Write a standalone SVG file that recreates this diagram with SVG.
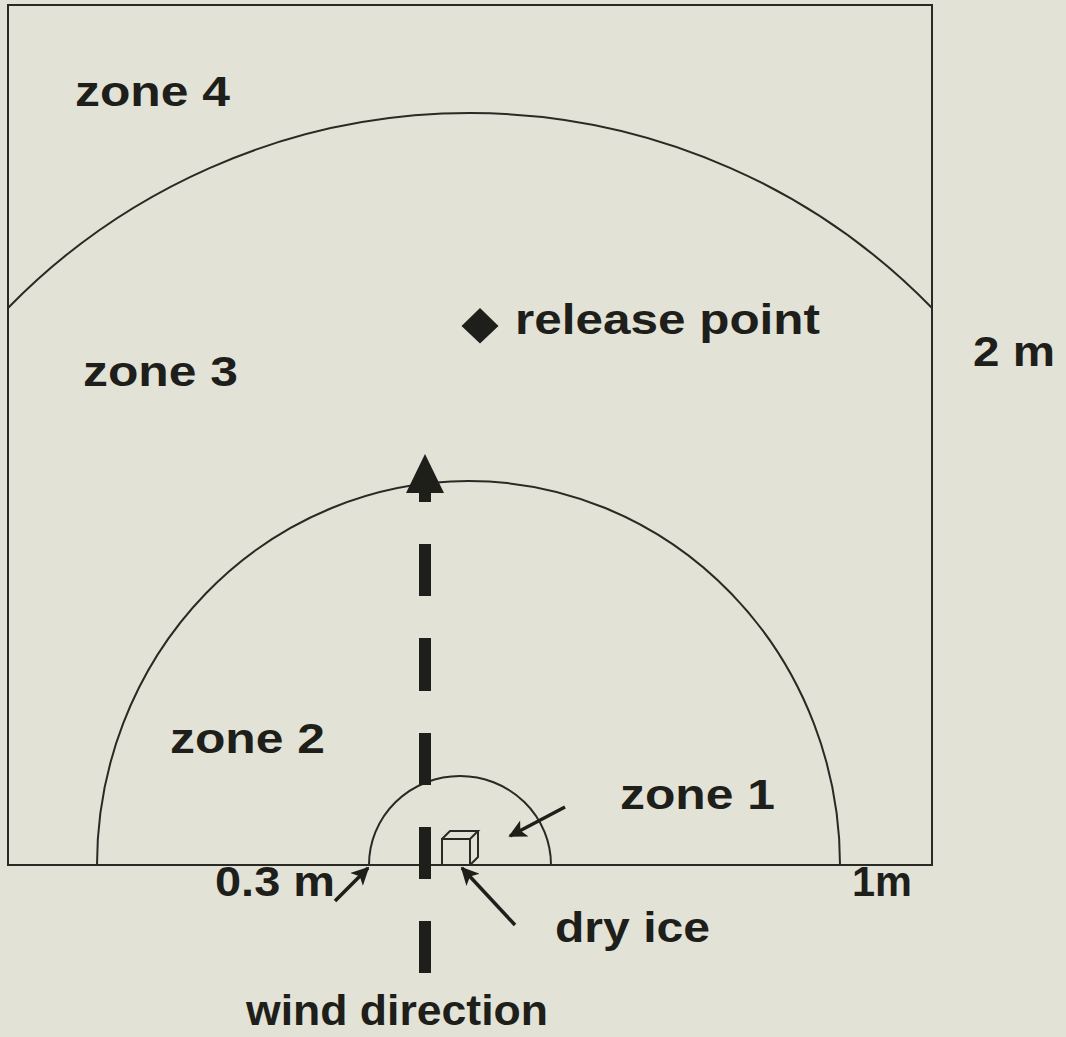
<svg xmlns="http://www.w3.org/2000/svg" width="1066" height="1037" viewBox="0 0 1066 1037">
<style>
.ln{fill:none;stroke:#2a2a25;stroke-width:2}
.tx{font-family:"Liberation Sans",Arial,sans-serif;font-weight:bold;font-size:43px;fill:#1e1e1a}
.ar{stroke:#1e1e1a;stroke-width:3.5;fill:none}
</style>
<defs>
<marker id="head" viewBox="0 0 10 10" refX="9" refY="5" markerWidth="22" markerHeight="18" markerUnits="userSpaceOnUse" orient="auto">
<path d="M0,0 L10,5 L0,10 L2.5,5 z" fill="#1e1e1a"/>
</marker>
</defs>
<rect width="1066" height="1037" fill="#e3e2d6"/>
<g id="frame"><rect class="ln" x="8" y="5" width="924" height="860"/></g>
<g id="zone4-boundary"><path class="ln" d="M8 308 A645 645 0 0 1 932 308"/></g>
<g id="zone2-boundary"><path class="ln" d="M97 865 A371.5 384 0 0 1 840 865"/></g>
<g id="zone1-boundary"><path class="ln" d="M369 865 A91 89 0 0 1 551 865"/></g>
<g id="dry-ice">
<path class="ln" d="M442 839 H470 V865 H442 Z M442 839 L450 831 H478 L470 839 M478 831 V857 L470 865"/>
</g>
<g id="release-point"><path d="M480 308 L498.5 326 L480 343.5 L461.5 326 Z" fill="#1e1e1a"/></g>
<g id="connectors">
<g id="wind-arrow" fill="#1e1e1a">
<rect x="419" y="544" width="12" height="52"/>
<rect x="419" y="638" width="12" height="53"/>
<rect x="419" y="733" width="12" height="52"/>
<rect x="419" y="827" width="12" height="52"/>
<rect x="419" y="921" width="12" height="52"/>
<rect x="419" y="488" width="12" height="14"/>
<path d="M425 454 L444 493 L406 493 Z"/>
</g>
<line class="ar" x1="565" y1="807" x2="510" y2="836" marker-end="url(#head)"/>
<line class="ar" x1="335" y1="901" x2="368" y2="868" marker-end="url(#head)"/>
<line class="ar" x1="515" y1="925" x2="462" y2="868" marker-end="url(#head)"/>
</g>
<g id="labels">
<text class="tx" x="75" y="106" textLength="155" lengthAdjust="spacingAndGlyphs">zone 4</text>
<text class="tx" x="515" y="334" textLength="305" lengthAdjust="spacingAndGlyphs">release point</text>
<text class="tx" x="83" y="386" textLength="155" lengthAdjust="spacingAndGlyphs">zone 3</text>
<text class="tx" x="973" y="366" textLength="82" lengthAdjust="spacingAndGlyphs">2 m</text>
<text class="tx" x="170" y="753" textLength="155" lengthAdjust="spacingAndGlyphs">zone 2</text>
<text class="tx" x="620" y="809" textLength="155" lengthAdjust="spacingAndGlyphs">zone 1</text>
<text class="tx" x="215" y="896" textLength="120" lengthAdjust="spacingAndGlyphs">0.3 m</text>
<text class="tx" x="852" y="896" textLength="60" lengthAdjust="spacingAndGlyphs">1m</text>
<text class="tx" x="555" y="942" textLength="155" lengthAdjust="spacingAndGlyphs">dry ice</text>
<text class="tx" x="246" y="1025" textLength="302" lengthAdjust="spacingAndGlyphs">wind direction</text>
</g>
</svg>
